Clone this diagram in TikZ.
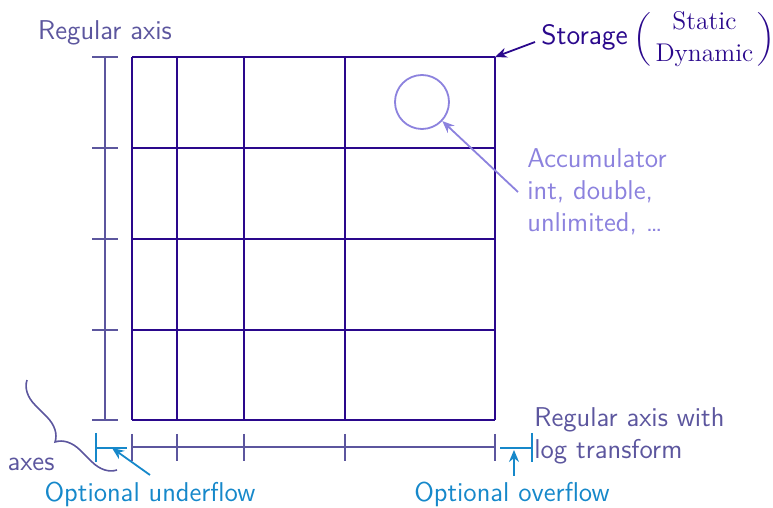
\documentclass[tikz,border=0pt]{standalone}
\usepackage{amsmath}
\usepackage{graphicx}
\usetikzlibrary{arrows.meta,decorations.pathreplacing}
\definecolor{gridc}{RGB}{42,8,140}
\definecolor{axisc}{RGB}{92,86,158}
\definecolor{accc}{RGB}{140,130,222}
\definecolor{cyanc}{RGB}{22,136,202}
\newcommand{\myparl}{\scalebox{1}[0.93]{$\biggl($}}
\newcommand{\myparr}{\scalebox{1}[0.93]{$\biggr)$}}
\tikzset{
  gridline/.style={gridc, line width=1.1pt},
  axisline/.style={axisc, line width=0.8pt},
  flowline/.style={cyanc, line width=0.9pt},
  lbl/.style={font=\sffamily\fontsize{13.6}{16}\selectfont, inner sep=0pt},
  arr/.style={-{Stealth[length=6pt,width=5pt]}, line width=0.9pt},
}
\begin{document}
\begin{tikzpicture}[x=0.5pt,y=-0.5pt]
\useasboundingbox (0,0) rectangle (773,508);
% grid
\foreach \x in {132,177,244,345,495} \draw[gridline] (\x,57) -- (\x,420);
\foreach \y in {57,148,239,330,420} \draw[gridline] (132,\y) -- (495,\y);
\coordinate (corner) at (495,57);
% left regular axis
\draw[axisline] (105,57) -- (105,420);
\foreach \y in {57,148,239,330,420} \draw[axisline] (92,\y) -- (118,\y);
% bottom axis
\draw[axisline] (132,447) -- (495,447);
\foreach \x in {132,177,244,345,495} \draw[axisline] (\x,434) -- (\x,461);
% underflow / overflow
\draw[flowline] (96,433) -- (96,462);
\draw[flowline] (96,448) -- (127,448);
\coordinate (uf) at (112,448);
\draw[flowline] (532,433) -- (532,462);
\draw[flowline] (500,448) -- (532,448);
\coordinate (of) at (514,450);
% accumulator circle
\node[draw=accc, line width=0.9pt, circle, minimum size=27pt, inner sep=0pt] (acc) at (422,102) {};
% brace
\draw[axisc, line width=0.8pt, decorate, decoration={brace, amplitude=12pt}] (117,470) -- (27,380);
% labels
\node[lbl, text=axisc] (regax) at (105,33) {Regular axis};
\node[lbl, text=gridc, anchor=west, font=\sffamily\fontsize{14}{16}\selectfont] (stor) at (541,39) {Storage\hspace{3pt}{\fontsize{12.8}{16}\selectfont\myparl$\,\begin{matrix}\textrm{Static}\\[0pt] \textrm{Dynamic}\end{matrix}\,$\myparr}};
\node[lbl, text=accc, anchor=west, align=left] (acct) at (527,192) {Accumulator\\int, double,\\unlimited, \dots};
\node[lbl, text=axisc, anchor=west, align=left] (logax) at (534,436) {Regular axis with\\log transform};
\node[lbl, text=axisc] (axes) at (31,464) {axes};
\node[lbl, text=cyanc] (uft) at (150,494) {Optional underflow};
\node[lbl, text=cyanc] (oft) at (512,494) {Optional overflow};
% arrows
\draw[arr, gridc] (535,42) -- (corner);
\draw[arr, accc] (518,192) -- (acc);
\draw[arr, cyanc] (150,475) -- (uf);
\draw[arr, cyanc] (514,476) -- (of);
\end{tikzpicture}
\end{document}
